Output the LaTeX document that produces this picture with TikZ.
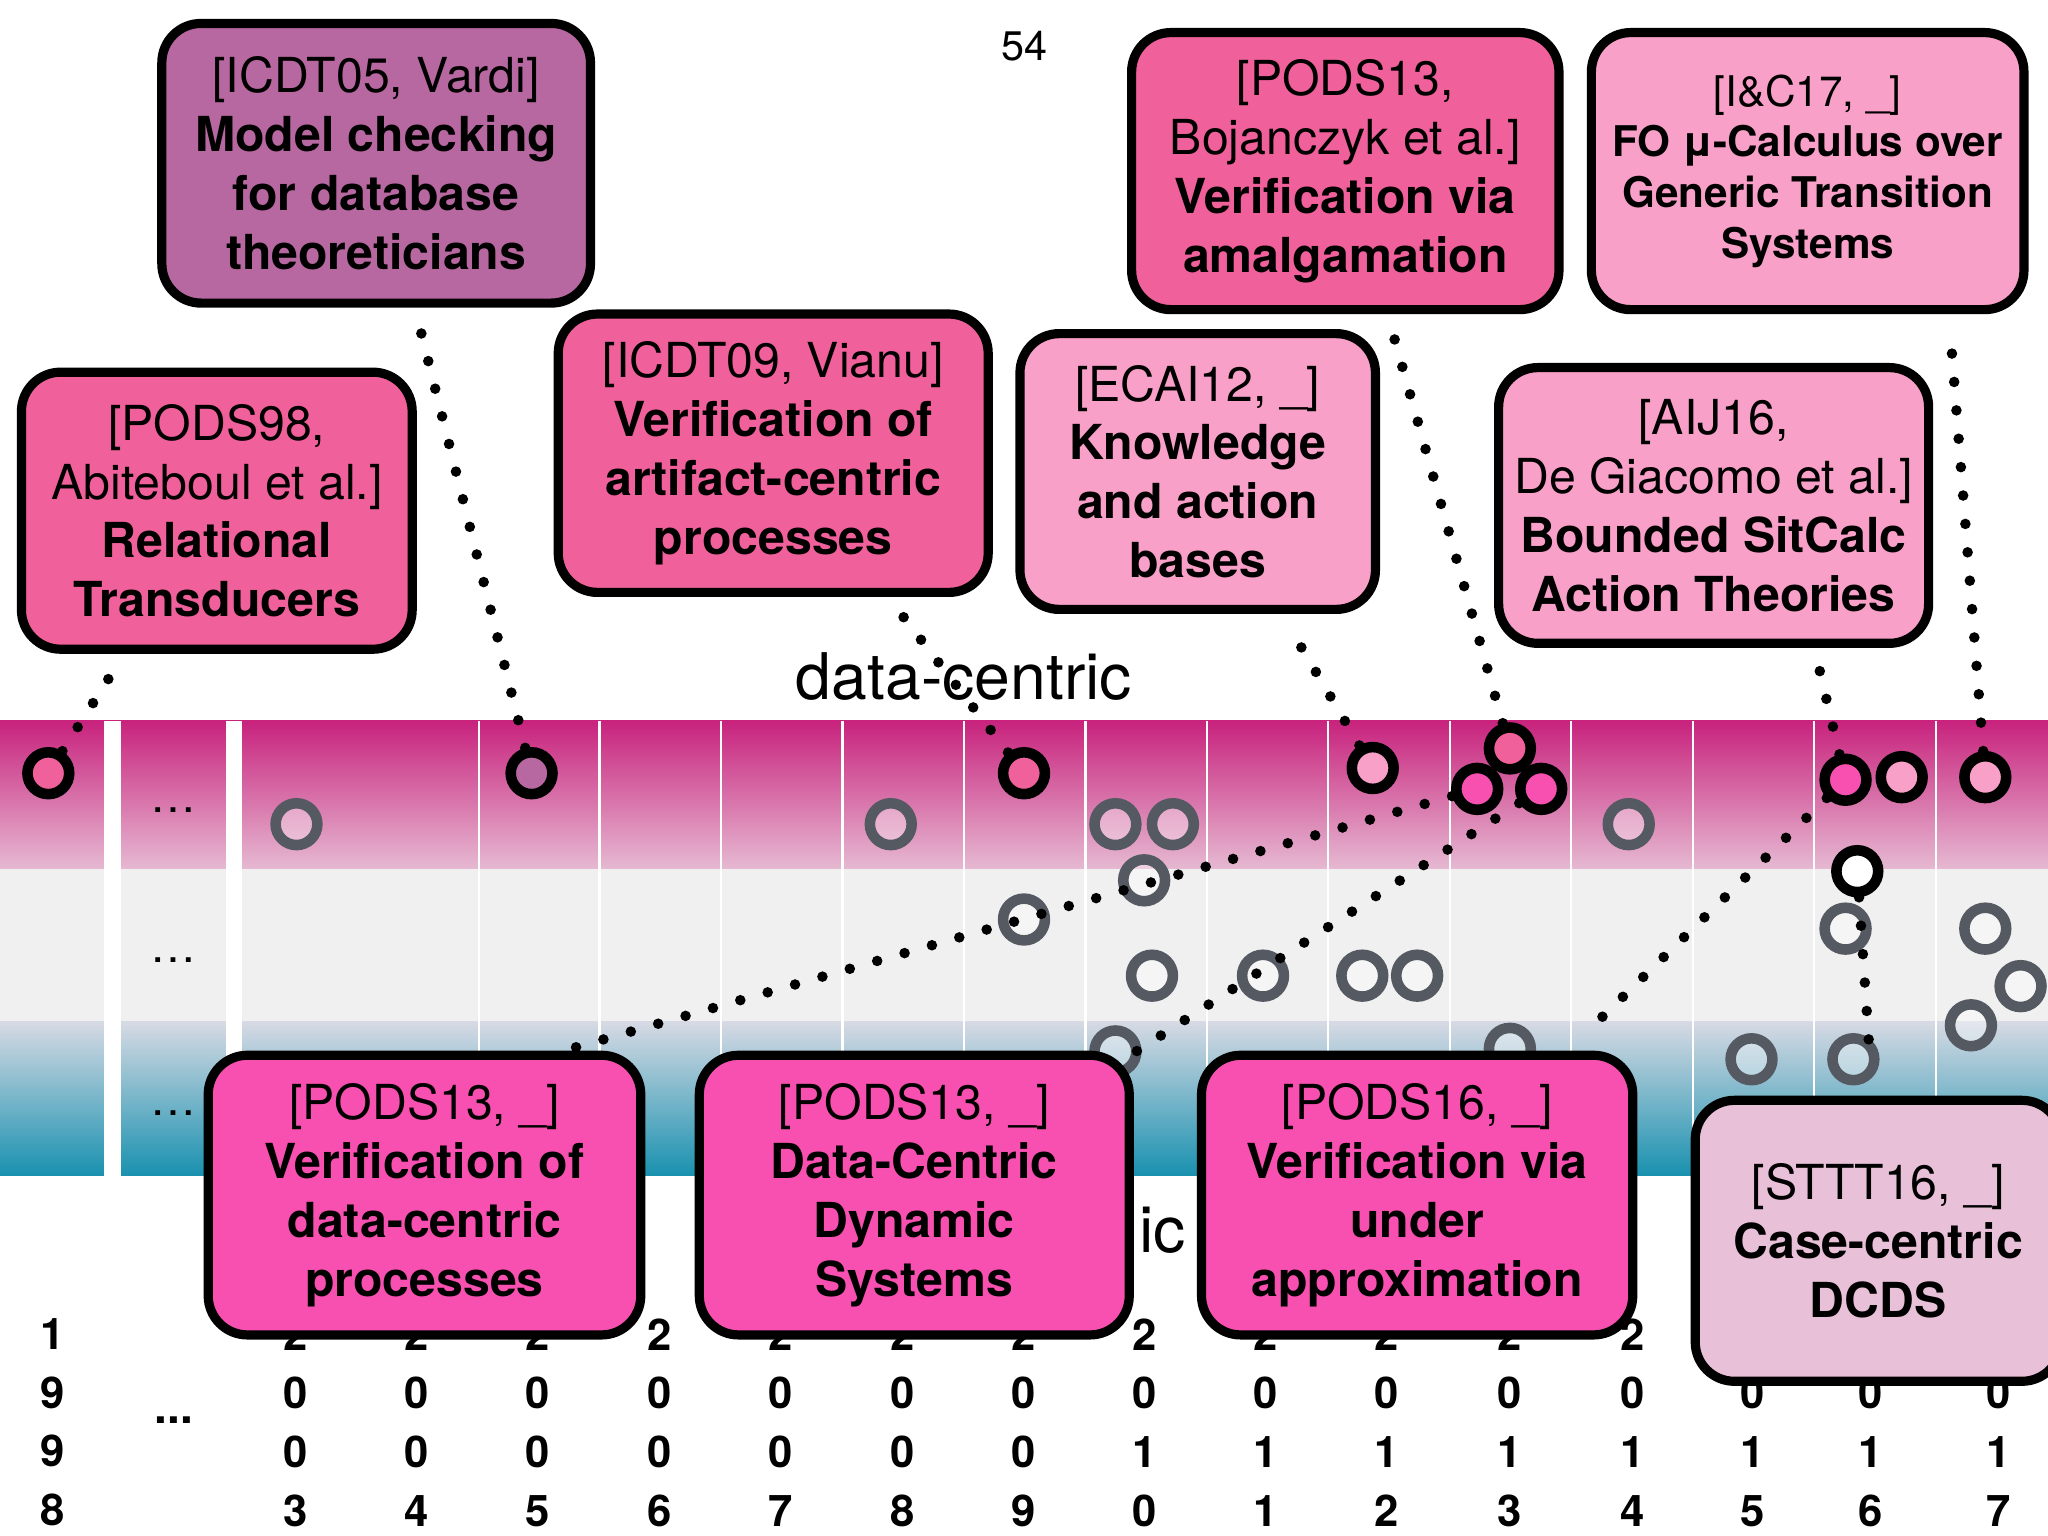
\documentclass[tikz,border=0pt]{standalone}
\usepackage{fontspec}
\setmainfont{TeX Gyre Heros}
\usetikzlibrary{calc}
\definecolor{coral}{HTML}{F0609A}
\definecolor{rose}{HTML}{F8A0C8}
\definecolor{hot}{HTML}{F850B0}
\definecolor{plum}{HTML}{B868A0}
\definecolor{blush}{HTML}{E8C0D8}
\definecolor{ringgray}{HTML}{555A62}
\begin{document}
\begin{tikzpicture}[x=0.01cm,y=-0.01cm]
  \tikzstyle{paper}=[draw=black, line width=2pt, rounded corners=0.3cm, align=center,
                     font=\fontsize{10.5}{12.8}\selectfont, inner sep=0pt]
  \tikzstyle{hit}=[circle, draw=black, line width=2.3pt, minimum size=0.32cm, inner sep=0pt]
  \tikzstyle{miss}=[circle, draw=ringgray, fill=white, fill opacity=0.35, line width=2.3pt, minimum size=0.32cm, inner sep=0pt]
  \tikzstyle{dots}=[line width=2.3pt, line cap=round, dash pattern=on 0pt off 6.2pt]
  \tikzstyle{year}=[font=\bfseries\fontsize{9.5}{12.8}\selectfont, align=center, anchor=north]
  \useasboundingbox (0,0) rectangle (1568,1176);
  \fill[white] (0,0) rectangle (1568,1176);

  %%%%%%%%%%%%%%%%%%%%%%%%%%%%%%%%%%%%%%%%
  \shade[top color={rgb,255:red,200;green,35;blue,125}, bottom color={rgb,255:red,230;green,185;blue,210}] (0,552) rectangle (1568,665);
  \fill[black!6] (0,665) rectangle (1568,782);
  \shade[top color={rgb,255:red,215;green,218;blue,228}, bottom color={rgb,255:red,25;green,145;blue,175}] (0,782) rectangle (1568,900);
  \fill[white] (80,552) rectangle (93,900);
  \fill[white] (173,552) rectangle (185,900);
  \foreach \xx in {367,459,552,645,738,831,924,1017,1110,1203,1296,1389,1482}
    \draw[white, line width=0.5pt] (\xx,552) -- (\xx,900);
  \foreach \yy in {620,735,852} \node at (133,\yy) {\dots};

  \node[font=\fontsize{14}{16}\selectfont] (dc) at (738,518) {data-centric};
  \node[font=\fontsize{14}{16}\selectfont] (pc) at (890,942) {ic};
  \node[font=\fontsize{9}{10}\selectfont] (page) at (784,35) {54};

  % years
  \node[year] (y98) at (40,997) {1\\9\\9\\8};
  \node[font=\bfseries] (ydots) at (133,1087) {...};
  \foreach \yx/\yb/\yc [count=\i] in {226/0/3,319/0/4,412/0/5,505/0/6,598/0/7,691/0/8,784/0/9,876/1/0,969/1/1,1062/1/2,
      1156/1/3,1250/1/4,1342/1/5,1432/1/6,1530/1/7}
    \node[year] (y\i) at (\yx,997) {2\\0\\\yb\\\yc};

  % circles
  \node[hit, fill=coral] (c98) at (37,592) {};
  \node[hit, fill=plum] (c05) at (407,592) {};
  \node[hit, fill=coral] (c09) at (784,592) {};
  \node[hit, fill=rose] (c12) at (1051,588) {};
  \node[hit, fill=coral] (c13a) at (1156,573) {};
  \node[hit, fill=hot] (c13b) at (1131,604) {};
  \node[hit, fill=hot] (c13c) at (1180,604) {};
  \node[hit, fill=hot] (c16a) at (1413,597) {};
  \node[hit, fill=rose] (c16b) at (1456,595) {};
  \node[hit, fill=rose] (c17) at (1520,595) {};
  \node[hit, fill=white] (c16w) at (1422,667) {};
  \foreach \cx/\cy [count=\i] in {227/631,682/631,854/631,898/631,876/674,784/704,882/747,967/747,1043/747,1085/747,
      854/805,1156/803,1247/631,1413/711,1520/711,1547/755,1509/785,1341/811,1419/811}
    \node[miss] (g\i) at (\cx,\cy) {};

  % free ends
  \coordinate (d98) at (88,512);
  \coordinate (d05) at (318,237);
  \coordinate (d09) at (686,465);
  \coordinate (d12) at (993,490);
  \coordinate (d13a) at (1063,243);
  \coordinate (d16a) at (1390,500);
  \coordinate (d17) at (1493,252);
  \coordinate (d13b) at (430,805);
  \coordinate (d13c) at (870,805);
  \coordinate (d16b) at (1215,790);
  \coordinate (d16c) at (1432,815);
  \foreach \a/\b in {c98/d98,c05/d05,c09/d09,c12/d12,c13a/d13a,c16a/d16a,c17/d17,c13b/d13b,c13c/d13c,c16a/d16b,c16w/d16c}
    \draw[dots] (\a) -- (\b);

  % papers
  \node[paper, fill=plum, minimum width=3.28cm, minimum height=2.14cm] (icdt05) at (288,125)
    {[ICDT05, Vardi]\\\textbf{Model checking}\\\textbf{for database}\\\textbf{theoreticians}};
  \node[paper, fill=coral, minimum width=2.99cm, minimum height=2.12cm] (pods98) at (166,391)
    {[PODS98,\\Abiteboul et al.]\\\textbf{Relational}\\\textbf{Transducers}};
  \node[paper, fill=coral, minimum width=3.29cm, minimum height=2.13cm] (icdt09) at (592,347)
    {[ICDT09, Vianu]\\\textbf{Verification of}\\\textbf{artifact-centric}\\\textbf{processes}};
  \node[paper, fill=rose, minimum width=2.72cm, minimum height=2.11cm] (ecai12) at (917,361)
    {[ECAI12, \_]\\\textbf{Knowledge}\\\textbf{and action}\\\textbf{bases}};
  \node[paper, fill=coral, minimum width=3.27cm, minimum height=2.12cm] (pods13a) at (1030,131)
    {[PODS13,\\Bojanczyk et al.]\\\textbf{Verification via}\\\textbf{amalgamation}};
  \node[paper, fill=rose, minimum width=3.31cm, minimum height=2.12cm, font=\fontsize{9.2}{11}\selectfont] (ic17) at (1384,131)
    {[I\&C17, \_]\\\textbf{FO μ-Calculus over}\\\textbf{Generic Transition}\\\textbf{Systems}};
  \node[paper, fill=rose, minimum width=3.29cm, minimum height=2.11cm] (aij16) at (1312,387)
    {[AIJ16,\\De Giacomo et al.]\\\textbf{Bounded SitCalc}\\\textbf{Action Theories}};
  \node[paper, fill=hot, minimum width=3.31cm, minimum height=2.14cm] (pods13b) at (325,915)
    {[PODS13, \_]\\\textbf{Verification of}\\\textbf{data-centric}\\\textbf{processes}};
  \node[paper, fill=hot, minimum width=3.29cm, minimum height=2.14cm] (pods13c) at (700,915)
    {[PODS13, \_]\\\textbf{Data-Centric}\\\textbf{Dynamic}\\\textbf{Systems}};
  \node[paper, fill=hot, minimum width=3.30cm, minimum height=2.14cm] (pods16) at (1085,915)
    {[PODS16, \_]\\\textbf{Verification via}\\\textbf{under}\\\textbf{approximation}};
  \node[paper, fill=blush, minimum width=2.80cm, minimum height=2.15cm] (sttt16) at (1438,950)
    {[STTT16, \_]\\\textbf{Case-centric}\\\textbf{DCDS}};
\end{tikzpicture}
\end{document}
